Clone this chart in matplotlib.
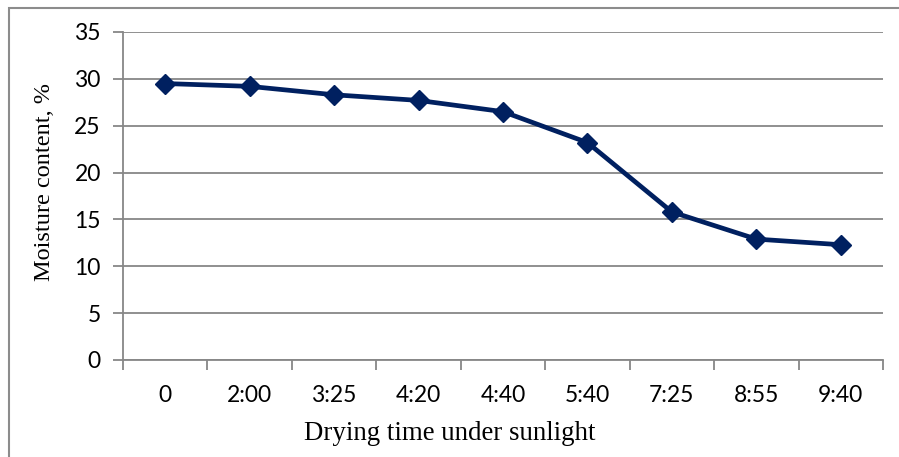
import matplotlib
matplotlib.use("Agg")
import matplotlib.pyplot as plt
from matplotlib.patches import Rectangle

TIMES = ["0", "2:00", "3:25", "4:20", "4:40", "5:40", "7:25", "8:55", "9:40"]
MOISTURE = [29.5, 29.2, 28.3, 27.7, 26.5, 23.2, 15.8, 12.9, 12.3]
Y_TICKS = [0, 5, 10, 15, 20, 25, 30, 35]

W, H = 899, 457
navy = "#002060"
grid_grey = "#878787"

fig = plt.figure(figsize=(W / 100, H / 100), dpi=100)
ax = fig.add_axes([123 / W, 1 - 360 / H, (883 - 123) / W, (360 - 32) / H])

# outer chart border (only top and left fall inside the image)
fig.patches.append(Rectangle((8.5 / W, -0.1), 1.2, 1.1 - 8.5 / H,
                             transform=fig.transFigure, fill=False,
                             edgecolor="#8c8c8c", linewidth=1.5))

x = list(range(len(TIMES)))
ax.plot(x, MOISTURE, color=navy, linewidth=3.4, marker="D", markersize=10.5,
        markerfacecolor=navy, markeredgecolor=navy, zorder=3, clip_on=False)

ax.set_xlim(-0.5, len(TIMES) - 0.5)
ax.set_ylim(0, 35)
ax.set_yticks(Y_TICKS)
ax.set_xticks(x)
ax.set_xticklabels(TIMES)
ax.set_xticks([i - 0.5 for i in range(len(TIMES) + 1)], minor=True)

ax.grid(axis="y", color=grid_grey, linewidth=1.3)
ax.set_axisbelow(True)
for side in ("top", "right"):
    ax.spines[side].set_visible(False)
for side in ("left", "bottom"):
    ax.spines[side].set_color(grid_grey)
    ax.spines[side].set_linewidth(1.3)

ax.tick_params(axis="x", which="major", length=0, pad=18)
ax.tick_params(axis="x", which="minor", length=7, width=1.3, color=grid_grey)
ax.tick_params(axis="y", length=7, width=1.3, color=grid_grey, pad=9)
for lab in ax.get_xticklabels() + ax.get_yticklabels():
    lab.set_fontfamily("Lato")
    lab.set_fontsize(16.5)

ax.set_xlabel("Drying time under sunlight", fontfamily="Liberation Serif",
              fontsize=19.4, va="center")
ax.set_ylabel("Moisture content, %", fontfamily="Liberation Serif",
              fontsize=17.5, va="center")
ax.xaxis.set_label_coords((450 - 123) / 760, (360 - 434) / 328)
ax.yaxis.set_label_coords((45 - 123) / 760, (360 - 182) / 328)

fig.savefig("out.png", dpi=100)
